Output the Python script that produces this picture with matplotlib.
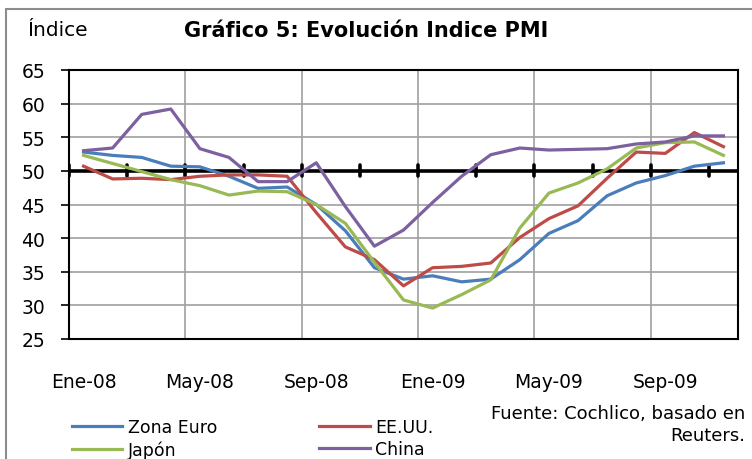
import numpy as np
import matplotlib.pyplot as plt
from matplotlib.lines import Line2D
from matplotlib.patches import Rectangle

plt.rcParams['font.family'] = ['DejaVu Sans']

months = ['Ene-08', 'Feb-08', 'Mar-08', 'Abr-08', 'May-08', 'Jun-08', 'Jul-08', 'Ago-08',
          'Sep-08', 'Oct-08', 'Nov-08', 'Dic-08', 'Ene-09', 'Feb-09', 'Mar-09', 'Abr-09',
          'May-09', 'Jun-09', 'Jul-09', 'Ago-09', 'Sep-09', 'Oct-09', 'Nov-09']

zona_euro = [52.8, 52.3, 52.0, 50.7, 50.6, 49.2, 47.4, 47.6, 45.0, 41.1, 35.6, 33.9,
             34.4, 33.5, 33.9, 36.8, 40.7, 42.6, 46.3, 48.2, 49.3, 50.7, 51.2]
eeuu = [50.7, 48.8, 48.9, 48.7, 49.2, 49.4, 49.4, 49.2, 43.8, 38.7, 36.8, 32.9,
        35.6, 35.8, 36.3, 40.1, 42.9, 44.8, 48.9, 52.8, 52.6, 55.7, 53.6]
japon = [52.3, 51.1, 49.9, 48.7, 47.8, 46.4, 47.0, 46.9, 45.0, 42.2, 36.4, 30.8,
         29.6, 31.6, 33.8, 41.5, 46.7, 48.2, 50.3, 53.4, 54.2, 54.3, 52.3]
china = [53.0, 53.4, 58.4, 59.2, 53.3, 52.0, 48.4, 48.4, 51.2, 44.7, 38.8, 41.2,
         45.3, 49.2, 52.4, 53.4, 53.1, 53.2, 53.3, 54.0, 54.3, 55.2, 55.2]

series = [('Zona Euro', zona_euro, '#4A7EBB'),
          ('EE.UU.', eeuu, '#BE4B48'),
          ('Japón', japon, '#98B954'),
          ('China', china, '#7D60A0')]

fig = plt.figure(figsize=(7.52, 4.6), dpi=100)
fig.patch.set_facecolor('white')

# outer chart border (open to the right and bottom, as in the crop)
fig.add_artist(Rectangle((6 / 752, -0.05), 1.2, 1 - 10 / 460 + 0.05,
                         transform=fig.transFigure, fill=False,
                         edgecolor='#8C8C8C', linewidth=1.5))

ax = fig.add_axes([69 / 752, 1 - 340 / 460, (738 - 69) / 752, (340 - 71) / 460])
x = np.arange(len(months))

# grid
ax.set_ylim(25, 65)
ax.set_xlim(-0.5, len(months) - 0.5)
ax.set_yticks(np.arange(25, 66, 5))
ax.yaxis.grid(True, color='#A0A0A0', linewidth=1.2)
ax.set_xticks(np.arange(-0.5, len(months), 4), minor=True)
ax.xaxis.grid(True, which='minor', color='#A0A0A0', linewidth=1.2)
ax.set_axisbelow(True)

# reference line at 50 with crossing tick marks
ax.axhline(50, color='black', linewidth=2.6, zorder=2)
for t in np.arange(-0.5, len(months), 2):
    ax.plot([t, t], [49.2, 50.8], color='black', linewidth=2.6,
            solid_capstyle='round', zorder=2)

for name, vals, col in series:
    ax.plot(x, vals, color=col, linewidth=2.3, label=name, zorder=3)

ax.set_xticks(x[::4])
ax.set_xticklabels(months[::4])
ax.tick_params(axis='x', which='both', length=0, pad=24, labelsize=13.5)
ax.tick_params(axis='y', length=6, width=1.2, labelsize=13.5, pad=11)
for s in ax.spines.values():
    s.set_linewidth(1.5)
    s.set_color('black')

fig.text(27 / 752, 1 - 30 / 460, 'Índice', fontsize=14.5, va='center', ha='left')
fig.text(366 / 752, 1 - 31 / 460, 'Gráfico 5: Evolución Indice PMI', fontsize=15,
         fontweight='bold', va='center', ha='center')

handles = [Line2D([], [], color=c, linewidth=2.3) for _, _, c in series]
labels = [n for n, _, _ in series]
order = [0, 2, 1, 3]
fig.legend([handles[i] for i in order], [labels[i] for i in order],
           ncol=2, loc='upper left', bbox_to_anchor=(72 / 752, 1 - 419 / 460),
           frameon=False, fontsize=12.5, handlelength=2.9, handletextpad=0.3,
           columnspacing=5.9, labelspacing=0.25, borderaxespad=0, borderpad=0)

fig.text(745 / 752, 1 - 425 / 460, 'Fuente: Cochlico, basado en\nReuters.',
         fontsize=13, ha='right', va='center', linespacing=1.35)

fig.savefig('out.png', dpi=100)
